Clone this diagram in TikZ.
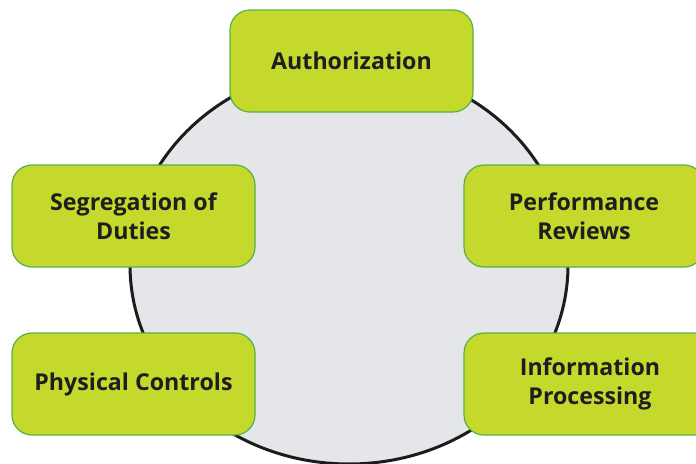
\documentclass[tikz,border=0pt]{standalone}
\usepackage{fontspec}
\setmainfont{Open Sans}
\definecolor{boxfill}{RGB}{197,217,45}
\definecolor{boxline}{RGB}{84,178,72}
\definecolor{ringfill}{RGB}{228,230,233}
\definecolor{ringline}{RGB}{28,28,28}
\definecolor{lbltext}{RGB}{30,30,30}

\begin{document}
\begin{tikzpicture}[x=0.75pt,y=0.75pt,yscale=-1,xscale=1,
  ctrlbox/.style={draw=boxline,fill=boxfill,line width=0.9pt,rounded corners=15pt,
    minimum height=76.5pt,inner sep=0pt,text=lbltext,align=center,
    font=\bfseries\fontsize{17.4}{21.75}\selectfont}]
\useasboundingbox (0,0) rectangle (696,464);
\clip (0,0) rectangle (696,464);
%Shape: Ellipse
\draw [color=ringline,fill=ringfill,line width=2.25pt] (349,265) ellipse [x radius=219,y radius=199];
% Boxes
\node [ctrlbox,minimum width=182.25pt] (auth) at (351.5,61) {Authorization};
\node [ctrlbox,minimum width=182.25pt] (segr) at (133.5,216) {Segregation of\\Duties};
\node [ctrlbox,minimum width=180pt] (perf) at (584,216) {Performance\\Reviews};
\node [ctrlbox,minimum width=182.25pt] (phys) at (133.5,384) {Physical Controls};
\node [ctrlbox,minimum width=189pt] (info) at (590,384) {Information\\Processing};
\end{tikzpicture}
\end{document}
